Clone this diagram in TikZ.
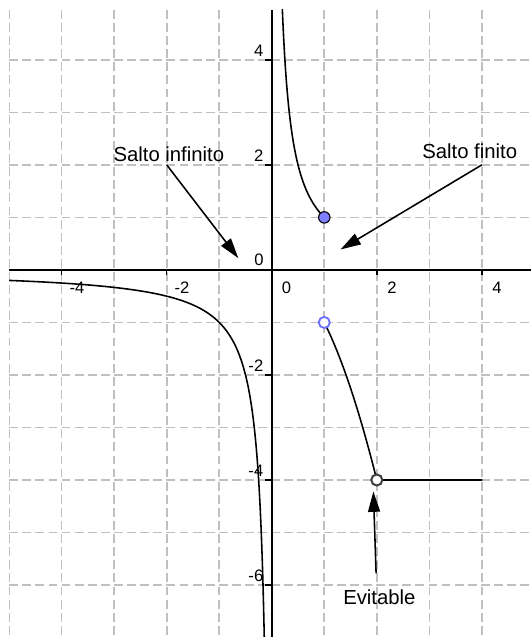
\documentclass[tikz,border=0pt]{standalone}
\usepackage{fontspec}
\setmainfont{Liberation Sans}
\usetikzlibrary{arrows.meta}
\definecolor{gridgray}{HTML}{C0C0C0}
\definecolor{ptblue}{HTML}{7F7FFF}
\definecolor{ringblue}{HTML}{6F6FFF}
\definecolor{ringgray}{HTML}{404040}
\begin{document}
\begin{tikzpicture}[x=1cm,y=1cm,
  gridline/.style={gridgray, line width=0.85pt, dash pattern=on 4.8pt off 2.3pt},
  axisline/.style={black, line width=0.9pt},
  tickmark/.style={black, line width=0.8pt},
  curve/.style={black, line width=0.85pt, line cap=round},
  arr/.style={black, line width=0.85pt, -{Triangle[length=11pt,width=6.5pt]}},
  ticklab/.style={font=\fontsize{9}{11}\selectfont, inner sep=0pt},
  annot/.style={font=\fontsize{11}{13}\selectfont, inner sep=0pt, anchor=base west},
  fillpt/.style={circle, draw=black, line width=0.6pt, fill=ptblue, minimum size=6.2pt, inner sep=0pt},
  openblue/.style={circle, draw=ringblue, line width=1pt, fill=white, minimum size=6pt, inner sep=0pt},
  opengray/.style={circle, draw=ringgray, line width=1.1pt, fill=white, minimum size=6pt, inner sep=0pt},
]
\useasboundingbox (-5.175,-6.99) rectangle (4.94,5.14);
\fill[white] (-5.175,-6.99) rectangle (4.94,5.14);
% grid
\begin{scope}
\clip (-5,-6.99) rectangle (4.94,4.95);
\foreach \x in {-5,...,4} \draw[gridline] (\x,4.95) -- (\x,-6.99);
\foreach \y in {-6,...,4} \draw[gridline] (-5,\y) -- (4.94,\y);
\end{scope}
% axes
\draw[axisline] (-5,0) -- (4.94,0);
\draw[axisline] (0,4.95) -- (0,-6.99);
\foreach \x in {-4,-2,2,4} \draw[tickmark] (\x,0) -- (\x,-0.1);
\foreach \y in {-6,-4,-2,2,4} \draw[tickmark] (0,\y) -- (-0.12,\y);
% tick labels
\foreach \x in {-4,-2,2,4} \node[ticklab, anchor=base] (xl\x) at (\x+0.29,-0.445) {\x};
\node[ticklab, anchor=base] (xl0) at (0.28,-0.445) {0};
\foreach \y in {-6,-4,-2,2,4} \node[ticklab, anchor=base east] (yl\y) at (-0.155,\y+0.07) {\y};
\node[ticklab, anchor=base east] (yl0) at (-0.15,0.08) {0};
% curves
\begin{scope}
\clip (-5,-6.99) rectangle (4.94,4.95);
\draw[curve] plot[domain=-5:-0.5, samples=120] (\x,{1/\x});
\draw[curve] plot[domain=-2:-7.1, samples=120] ({1/\x},\x);
\draw[curve] plot[domain=1:5, samples=150] ({1/\x},\x);
\draw[curve] plot[domain=1:2, samples=80] (\x,{-\x*\x});
\end{scope}
\coordinate (hstart) at (2,-4);
\coordinate (hend) at (4,-4);
\draw[curve] (hstart) -- (hend);
% points
\node[fillpt] (pA) at (1,1) {};
\node[openblue] (pB) at (1,-1) {};
\node[opengray] (pC) at (2,-4) {};
% annotations
\node[annot] (tinf) at (-3.02,2.07) {Salto infinito};
\node[annot] (tfin) at (2.86,2.128) {Salto finito};
\node[annot] (tev) at (1.355,-6.38) {Evitable};
\coordinate (siA) at (-2,2);
\coordinate (siB) at (-0.636,0.223);
\coordinate (sfA) at (4,2);
\coordinate (sfB) at (1.31,0.39);
\coordinate (evA) at (1.987,-5.78);
\coordinate (evB) at (1.935,-4.22);
\draw[arr] (siA) -- (siB);
\draw[arr] (sfA) -- (sfB);
\draw[arr] (evA) -- (evB);
\end{tikzpicture}
\end{document}
